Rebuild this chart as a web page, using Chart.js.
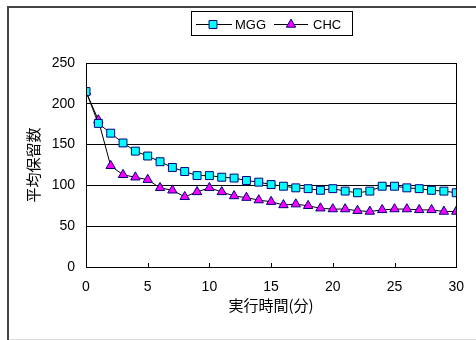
<!DOCTYPE html>
<html>
<head>
<meta charset="utf-8">
<script src="https://cdn.jsdelivr.net/npm/chart.js@4/dist/chart.umd.min.js"></script>
<style>
html,body{margin:0;padding:0;background:#fff;}
#wrap{width:476px;height:340px;position:relative;}
</style>
</head>
<body>
<div id="wrap"><canvas id="c" width="476" height="340"></canvas></div>
<script>
const minutes = [0,1,2,3,4,5,6,7,8,9,10,11,12,13,14,15,16,17,18,19,20,21,22,23,24,25,26,27,28,29,30];
const mgg = [215,176,164,152,142,136,129,122,117,112,112,110,109,106,104,101,99,97,96,94,96,93,91,93,99,99,97,96,94,93,91];
const chc = [215,180,124,113,110,107,97,94,86,92,97,92,87,85,82,80,76,77,75,72,71,71,69,68,70,71,71,70,70,68,68];
const seriesNames = ['MGG','CHC'];
const yTicks = [0,50,100,150,200,250];
const xTicks = [0,5,10,15,20,25,30];
const yTitle = '平均保留数';
const xTitle = '実行時間(分)';

const toPts = arr => arr.map((v,i)=>({x:minutes[i],y:v}));

const framePlugin = {
  id:'frame',
  beforeDraw(chart){
    const ctx = chart.ctx;
    ctx.save();
    ctx.fillStyle='#fff';
    ctx.fillRect(0,0,476,340);
    ctx.strokeStyle='#444';
    ctx.lineWidth=2;
    ctx.beginPath();
    ctx.moveTo(8,340); ctx.lineTo(8,7); ctx.lineTo(476,7);
    ctx.stroke();
    ctx.strokeStyle='#ddd';
    ctx.lineWidth=1;
    ctx.beginPath();
    ctx.moveTo(9,339.5); ctx.lineTo(476,339.5);
    ctx.stroke();
    ctx.restore();
  },
  afterDatasetsDraw(chart){
    const ctx = chart.ctx;
    const a = chart.chartArea;
    const xs = chart.scales.x;
    ctx.save();
    // plot border
    ctx.strokeStyle='#000';
    ctx.lineWidth=1;
    ctx.strokeRect(Math.round(a.left)+0.5, Math.round(a.top)+0.5, Math.round(a.right-a.left), Math.round(a.bottom-a.top));
    // inner ticks on x axis
    ctx.beginPath();
    xTicks.forEach(t=>{
      const px = Math.round(xs.getPixelForValue(t))+0.5;
      ctx.moveTo(px, a.bottom); ctx.lineTo(px, a.bottom-4);
    });
    ctx.stroke();
    // legend
    ctx.fillStyle='#fff';
    ctx.fillRect(191.5,11.5,161,24);
    ctx.strokeRect(191.5,11.5,161,24);
    const ly = 24;
    const items = [
      {x0:196,x1:232,mx:213,tx:235,ds:chart.data.datasets[0]},
      {x0:274,x1:308,mx:291,tx:313,ds:chart.data.datasets[1]}
    ];
    items.forEach(it=>{
      ctx.strokeStyle='#000';
      ctx.lineWidth=1;
      ctx.beginPath(); ctx.moveTo(it.x0,ly+0.5); ctx.lineTo(it.x1,ly+0.5); ctx.stroke();
      ctx.fillStyle=it.ds.pointBackgroundColor;
      ctx.strokeStyle=it.ds.pointBorderColor;
      Chart.helpers.drawPoint(ctx,{pointStyle:it.ds.pointStyle,radius:it.ds.pointRadius,borderWidth:1,rotation:0},it.mx,ly+0.5);
      ctx.fillStyle='#000';
      ctx.font='13px "Liberation Sans", Arial, sans-serif';
      ctx.textBaseline='middle';
      ctx.textAlign='left';
      ctx.fillText(it.ds.label,it.tx,ly+1);
    });
    ctx.restore();
  }
};

new Chart(document.getElementById('c'),{
  type:'line',
  data:{
    datasets:[
      {label:seriesNames[0],data:toPts(mgg),borderColor:'#000',borderWidth:1,pointStyle:'rect',pointRadius:5.6,pointHoverRadius:5.6,pointBackgroundColor:'#00FFFF',pointBorderColor:'#000080',pointBorderWidth:1,tension:0},
      {label:seriesNames[1],data:toPts(chc),borderColor:'#000',borderWidth:1,pointStyle:'triangle',pointRadius:5.4,pointHoverRadius:5.4,pointBackgroundColor:'#FF00FF',pointBorderColor:'#000080',pointBorderWidth:1,tension:0}
    ]
  },
  options:{
    responsive:false,
    animation:false,
    events:[],
    layout:{padding:{left:0,top:63,right:19,bottom:0}},
    plugins:{legend:{display:false},tooltip:{enabled:false}},
    scales:{
      x:{
        type:'linear',min:0,max:30,
        afterBuildTicks(s){s.ticks=xTicks.map(v=>({value:v}));},
        afterFit(s){s.height=73;},
        grid:{display:false,drawTicks:false},
        border:{display:false},
        ticks:{padding:12,color:'#000',font:{family:'"Liberation Sans", Arial, sans-serif',size:14},maxRotation:0},
        title:{display:true,text:xTitle,color:'#000',font:{family:'"Noto Sans CJK JP", sans-serif',size:15},padding:{top:0,bottom:26}}
      },
      y:{
        min:0,max:250,
        afterBuildTicks(s){s.ticks=yTicks.map(v=>({value:v}));},
        afterFit(s){s.width=86;},
        grid:{color:'#000',lineWidth:1,drawTicks:false},
        border:{display:false},
        ticks:{padding:11,color:'#000',font:{family:'"Liberation Sans", Arial, sans-serif',size:14}},
        title:{display:true,text:yTitle,color:'#000',font:{family:'"Noto Sans CJK JP", sans-serif',size:15},padding:{top:24,bottom:0}}
      }
    }
  },
  plugins:[framePlugin]
});
</script>
</body>
</html>
